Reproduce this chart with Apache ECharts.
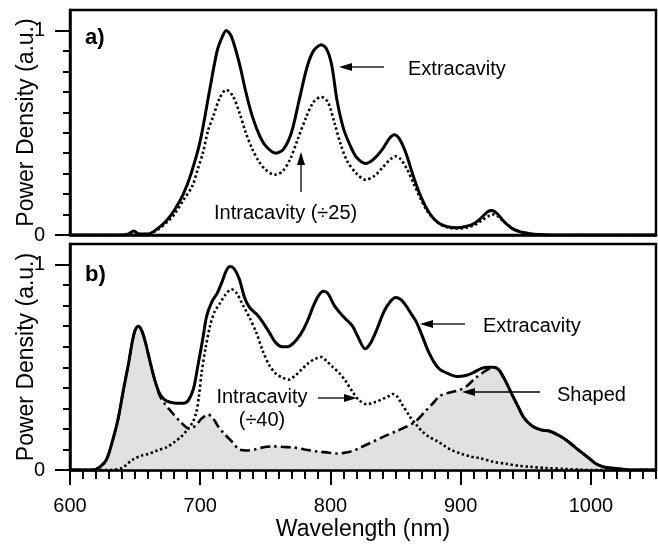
<!DOCTYPE html>
<html>
<head>
<meta charset="utf-8">
<script src="https://cdn.jsdelivr.net/npm/echarts@6/dist/echarts.min.js"></script>
<style>
  html, body { margin: 0; padding: 0; background: #fff; }
  #chart { width: 658px; height: 544px; }
</style>
</head>
<body>
<div id="chart"></div>
<script>
// ---- Panel a: dye laser output, extracavity vs. intracavity (÷25) ----
const aExtraWl  = [600, 640, 645, 649, 653, 660, 667, 674, 680, 687, 693, 700, 707, 713, 717, 720, 724, 730, 735, 740, 746, 751, 758, 764, 770, 776, 782, 787, 793, 797, 801, 805, 810, 815, 820, 827, 833, 840, 845, 849, 853, 858, 863, 868, 873, 878, 884, 890, 897, 903, 910, 916, 921, 924, 928, 932, 936, 940, 946, 952, 960, 970, 1050];
const aExtraVal = [0, 0, 0.005, 0.02, 0.005, 0.005, 0.03, 0.07, 0.12, 0.2, 0.3, 0.46, 0.7, 0.9, 0.97, 1.0, 0.97, 0.84, 0.70, 0.58, 0.48, 0.43, 0.40, 0.42, 0.50, 0.66, 0.82, 0.9, 0.93, 0.91, 0.83, 0.66, 0.52, 0.44, 0.38, 0.35, 0.37, 0.42, 0.47, 0.49, 0.47, 0.40, 0.30, 0.21, 0.14, 0.09, 0.055, 0.04, 0.035, 0.04, 0.055, 0.085, 0.115, 0.12, 0.105, 0.075, 0.05, 0.03, 0.015, 0.008, 0.002, 0, 0];

const aIntraWl  = [600, 645, 649, 653, 660, 667, 674, 680, 687, 694, 698, 702, 706, 710, 715, 720, 725, 730, 735, 740, 745, 750, 757, 763, 769, 775, 781, 787, 793, 798, 803, 808, 813, 820, 827, 834, 840, 846, 850, 854, 859, 864, 869, 874, 879, 885, 891, 898, 905, 911, 917, 922, 925, 929, 933, 937, 942, 948, 955, 965, 1050];
const aIntraVal = [0, 0, 0.015, 0.005, 0.005, 0.025, 0.06, 0.1, 0.17, 0.24, 0.32, 0.40, 0.51, 0.58, 0.67, 0.71, 0.68, 0.60, 0.50, 0.42, 0.36, 0.32, 0.295, 0.31, 0.37, 0.47, 0.57, 0.65, 0.675, 0.65, 0.55, 0.44, 0.36, 0.30, 0.27, 0.29, 0.33, 0.37, 0.385, 0.37, 0.32, 0.25, 0.18, 0.12, 0.08, 0.05, 0.035, 0.032, 0.037, 0.05, 0.075, 0.095, 0.1, 0.09, 0.065, 0.045, 0.025, 0.012, 0.004, 0, 0];

// ---- Panel b: extracavity, intracavity (÷40) and shaped spectrum ----
const bExtraWl  = [600, 618, 623, 628, 633, 637, 641, 645, 648, 650, 652.5, 655, 658, 661, 665, 669, 673, 677, 682, 687, 691, 695, 698, 702, 705, 709, 713, 717, 720, 723, 726, 730, 734, 738, 743, 748, 753, 758, 763, 767, 772, 777, 782, 787, 791, 794.5, 798, 803, 808, 812.5, 817, 821, 826.6, 831, 836, 841, 846, 850, 854, 858, 862, 866, 870, 875, 880, 884, 890, 897, 904, 910, 916, 921, 925, 929, 933, 937, 940, 944, 948, 952, 956, 962, 968, 975, 981, 988, 994, 1000, 1004, 1010, 1016, 1022, 1030, 1050];
const bExtraVal = [0, 0, 0.015, 0.05, 0.15, 0.25, 0.39, 0.52, 0.63, 0.68, 0.70, 0.68, 0.62, 0.54, 0.44, 0.37, 0.34, 0.33, 0.325, 0.325, 0.34, 0.40, 0.50, 0.64, 0.75, 0.82, 0.86, 0.92, 0.97, 0.99, 0.98, 0.93, 0.84, 0.79, 0.76, 0.72, 0.67, 0.62, 0.60, 0.60, 0.62, 0.66, 0.72, 0.80, 0.85, 0.87, 0.86, 0.80, 0.76, 0.73, 0.70, 0.65, 0.59, 0.62, 0.69, 0.77, 0.82, 0.84, 0.83, 0.80, 0.76, 0.72, 0.66, 0.58, 0.52, 0.49, 0.47, 0.455, 0.46, 0.475, 0.495, 0.50, 0.50, 0.49, 0.45, 0.40, 0.36, 0.31, 0.26, 0.23, 0.21, 0.195, 0.19, 0.17, 0.146, 0.11, 0.08, 0.05, 0.03, 0.015, 0.01, 0.006, 0, 0];

const bIntraWl  = [600, 630, 640, 648, 655, 661, 667, 674, 680, 685, 690, 694, 697, 699, 701, 704, 707.5, 711, 715, 719, 724, 728, 733, 738, 743, 748, 753, 758, 763, 768, 773, 778, 783, 788, 793, 797, 802, 807, 812, 817, 822, 828, 834, 840, 845, 848, 851, 855, 861, 866, 871, 876, 882, 887, 892, 900, 908, 915, 925, 935, 945, 953, 965, 980, 992, 1000, 1050];
const bIntraVal = [0, 0, 0.01, 0.05, 0.07, 0.08, 0.095, 0.11, 0.135, 0.16, 0.195, 0.23, 0.28, 0.36, 0.47, 0.59, 0.70, 0.77, 0.81, 0.85, 0.88, 0.86, 0.80, 0.74, 0.67, 0.58, 0.51, 0.47, 0.45, 0.44, 0.46, 0.49, 0.52, 0.54, 0.55, 0.53, 0.50, 0.47, 0.43, 0.38, 0.34, 0.32, 0.33, 0.345, 0.36, 0.37, 0.36, 0.32, 0.26, 0.22, 0.185, 0.16, 0.14, 0.12, 0.10, 0.08, 0.065, 0.057, 0.04, 0.03, 0.02, 0.016, 0.01, 0.005, 0.002, 0, 0];

const bShapedWl  = [600, 618, 623, 628, 633, 637, 641, 645, 648, 650, 652.5, 655, 658, 661, 665, 669, 673, 677, 684, 692, 697, 701, 706, 710, 714, 718, 724, 730, 736, 742, 748, 756, 764, 771.5, 780, 790, 798, 805, 812, 818, 823, 830, 840, 851, 858, 866, 872, 878, 884, 890, 899.5, 905, 910, 916, 921, 925, 929, 933, 937, 940, 944, 948, 952, 956, 962, 968, 975, 981, 988, 994, 1000, 1004, 1010, 1016, 1022, 1030, 1050];
const bShapedVal = [0, 0, 0.015, 0.05, 0.15, 0.25, 0.39, 0.52, 0.63, 0.68, 0.70, 0.68, 0.62, 0.54, 0.44, 0.36, 0.32, 0.29, 0.24, 0.20, 0.22, 0.25, 0.27, 0.25, 0.21, 0.18, 0.14, 0.10, 0.095, 0.10, 0.11, 0.115, 0.112, 0.11, 0.10, 0.09, 0.085, 0.08, 0.085, 0.095, 0.11, 0.13, 0.16, 0.19, 0.21, 0.24, 0.28, 0.32, 0.36, 0.375, 0.39, 0.41, 0.44, 0.47, 0.49, 0.50, 0.49, 0.45, 0.40, 0.36, 0.31, 0.26, 0.23, 0.21, 0.195, 0.19, 0.17, 0.146, 0.11, 0.08, 0.05, 0.03, 0.015, 0.01, 0.006, 0, 0];

// ---- Axis ticks and labels ----
const xMajorTicks = [600, 700, 800, 900, 1000];
const yMajorTicks = [0, 1];
const xMinorTicks = [];
for (let v = 600; v <= 1050; v += 10) xMinorTicks.push(v);
const yMinorTicks = [];
for (let i = 0; i <= 10; i++) yMinorTicks.push(+(i / 10).toFixed(1));

const FONT = '"Liberation Sans", Arial, Helvetica, sans-serif';
const X_MIN = 600, X_MAX = 1050, Y_MIN = 0, Y_MAX = 1.1;

function pairs(xs, ys) { return xs.map((x, i) => [x, ys[i]]); }

function xAxisMain(grid, withLabels) {
  return {
    type: 'value', gridIndex: grid, position: 'bottom', min: X_MIN, max: X_MAX, z: 10,
    axisLine: { show: true, onZero: false, lineStyle: { color: '#000', width: 2.5 } },
    axisTick: withLabels
      ? { show: true, inside: false, customValues: xMajorTicks, length: 15, lineStyle: { color: '#000', width: 2 } }
      : { show: false },
    axisLabel: withLabels
      ? { show: true, customValues: xMajorTicks, margin: 26, fontSize: 20, color: '#000', fontFamily: FONT,
          formatter: v => String(v) }
      : { show: false },
    splitLine: { show: false },
    name: withLabels ? 'Wavelength (nm)' : '',
    nameLocation: 'middle', nameGap: 48, nameMoveOverlap: false,
    nameTextStyle: { fontSize: 23, color: '#000', fontFamily: FONT }
  };
}
function xAxisMinor(grid) {
  return {
    type: 'value', gridIndex: grid, position: 'bottom', min: X_MIN, max: X_MAX, z: 10,
    axisLine: { show: false, onZero: false },
    axisTick: { show: true, inside: false, customValues: xMinorTicks, length: 9, lineStyle: { color: '#000', width: 2 } },
    axisLabel: { show: false }, splitLine: { show: false }
  };
}
function yAxisMain(grid) {
  return {
    type: 'value', gridIndex: grid, position: 'left', min: Y_MIN, max: Y_MAX, z: 10,
    axisLine: { show: true, onZero: false, lineStyle: { color: '#000', width: 2.5 } },
    axisTick: { show: true, inside: false, customValues: yMajorTicks, length: 15, lineStyle: { color: '#000', width: 2 } },
    axisLabel: { show: true, customValues: yMajorTicks, margin: 25, fontSize: 20, color: '#000', fontFamily: FONT },
    splitLine: { show: false },
    name: 'Power Density (a.u.)', nameLocation: 'middle', nameGap: 32, nameMoveOverlap: false,
    nameTextStyle: { fontSize: 23, color: '#000', fontFamily: FONT }
  };
}
function yAxisMinor(grid) {
  return {
    type: 'value', gridIndex: grid, position: 'left', min: Y_MIN, max: Y_MAX, z: 10,
    axisLine: { show: false, onZero: false },
    axisTick: { show: true, inside: false, customValues: yMinorTicks, length: 7, lineStyle: { color: '#000', width: 2 } },
    axisLabel: { show: false }, splitLine: { show: false }
  };
}

function lineSeries(name, xi, yi, data, style, z, extra) {
  return Object.assign({
    name, type: 'line', xAxisIndex: xi, yAxisIndex: yi, data,
    symbol: 'none', smooth: 0.3, z, lineStyle: style, animation: false
  }, extra || {});
}

const solid = { color: '#000', width: 3 };
const dotted = { color: '#000', width: 2.6, type: [2.4, 2.6] };
const dashDot = { color: '#000', width: 2.6, type: [10, 4, 2.5, 4] };

// annotation helpers (arrow = shaft + filled head)
function arrow(x1, y1, x2, y2) {
  const dx = x2 - x1, dy = y2 - y1, L = Math.hypot(dx, dy);
  const ux = dx / L, uy = dy / L, hl = 13, hw = 4;
  const bx = x2 - ux * hl, by = y2 - uy * hl;
  return [
    { type: 'line', z: 20, shape: { x1, y1, x2: bx, y2: by }, style: { stroke: '#000', lineWidth: 1.3 } },
    { type: 'polygon', z: 20, shape: { points: [[x2, y2], [bx - uy * hw, by + ux * hw], [bx + uy * hw, by - ux * hw]] }, style: { fill: '#000' } }
  ];
}
function label(text, x, y, opts) {
  return { type: 'text', z: 20, x, y, style: Object.assign({
    text, fill: '#000', font: '20px ' + FONT, textAlign: 'left', textVerticalAlign: 'middle'
  }, opts || {}) };
}

const chart = echarts.init(document.getElementById('chart'), null, { renderer: 'canvas' });
chart.setOption({
  animation: false,
  backgroundColor: '#fff',
  grid: [
    { left: 70, right: 2, top: 10, height: 225, outerBoundsMode: 'none', containLabel: false,
      show: true, borderColor: '#000', borderWidth: 2.5 },
    { left: 70, right: 2, top: 244, height: 226, outerBoundsMode: 'none', containLabel: false,
      show: true, borderColor: '#000', borderWidth: 2.5 }
  ],
  xAxis: [xAxisMain(0, false), xAxisMain(1, true), xAxisMinor(1)],
  yAxis: [yAxisMain(0), yAxisMinor(0), yAxisMain(1), yAxisMinor(1)],
  series: [
    lineSeries('Intracavity (÷25)', 0, 0, pairs(aIntraWl, aIntraVal), dotted, 3),
    lineSeries('Extracavity', 0, 0, pairs(aExtraWl, aExtraVal), solid, 4),
    lineSeries('Shaped', 1, 2, pairs(bShapedWl, bShapedVal), dashDot, 2,
      { areaStyle: { color: '#e1e1e1', opacity: 1 } }),
    lineSeries('Intracavity (÷40)', 1, 2, pairs(bIntraWl, bIntraVal), dotted, 3),
    lineSeries('Extracavity', 1, 2, pairs(bExtraWl, bExtraVal), solid, 4)
  ],
  graphic: [
    { type: 'text', z: 20, x: 85, y: 38, style: { text: 'a)', fill: '#000', font: 'bold 22px ' + FONT, textVerticalAlign: 'middle' } },
    { type: 'text', z: 20, x: 85, y: 275, style: { text: 'b)', fill: '#000', font: 'bold 22px ' + FONT, textVerticalAlign: 'middle' } },
    label('Extracavity', 408, 69),
    ...arrow(384, 67, 339, 67),
    label('Intracavity (÷25)', 214, 213),
    ...arrow(301, 192, 301, 152),
    label('Extracavity', 483, 326),
    ...arrow(465, 324, 420, 324),
    label('Intracavity', 262, 397, { textAlign: 'center' }),
    label('(÷40)', 262, 420, { textAlign: 'center' }),
    ...arrow(318, 398, 357, 398),
    label('Shaped', 557, 395),
    ...arrow(540, 392, 462, 392)
  ]
});
</script>
</body>
</html>
